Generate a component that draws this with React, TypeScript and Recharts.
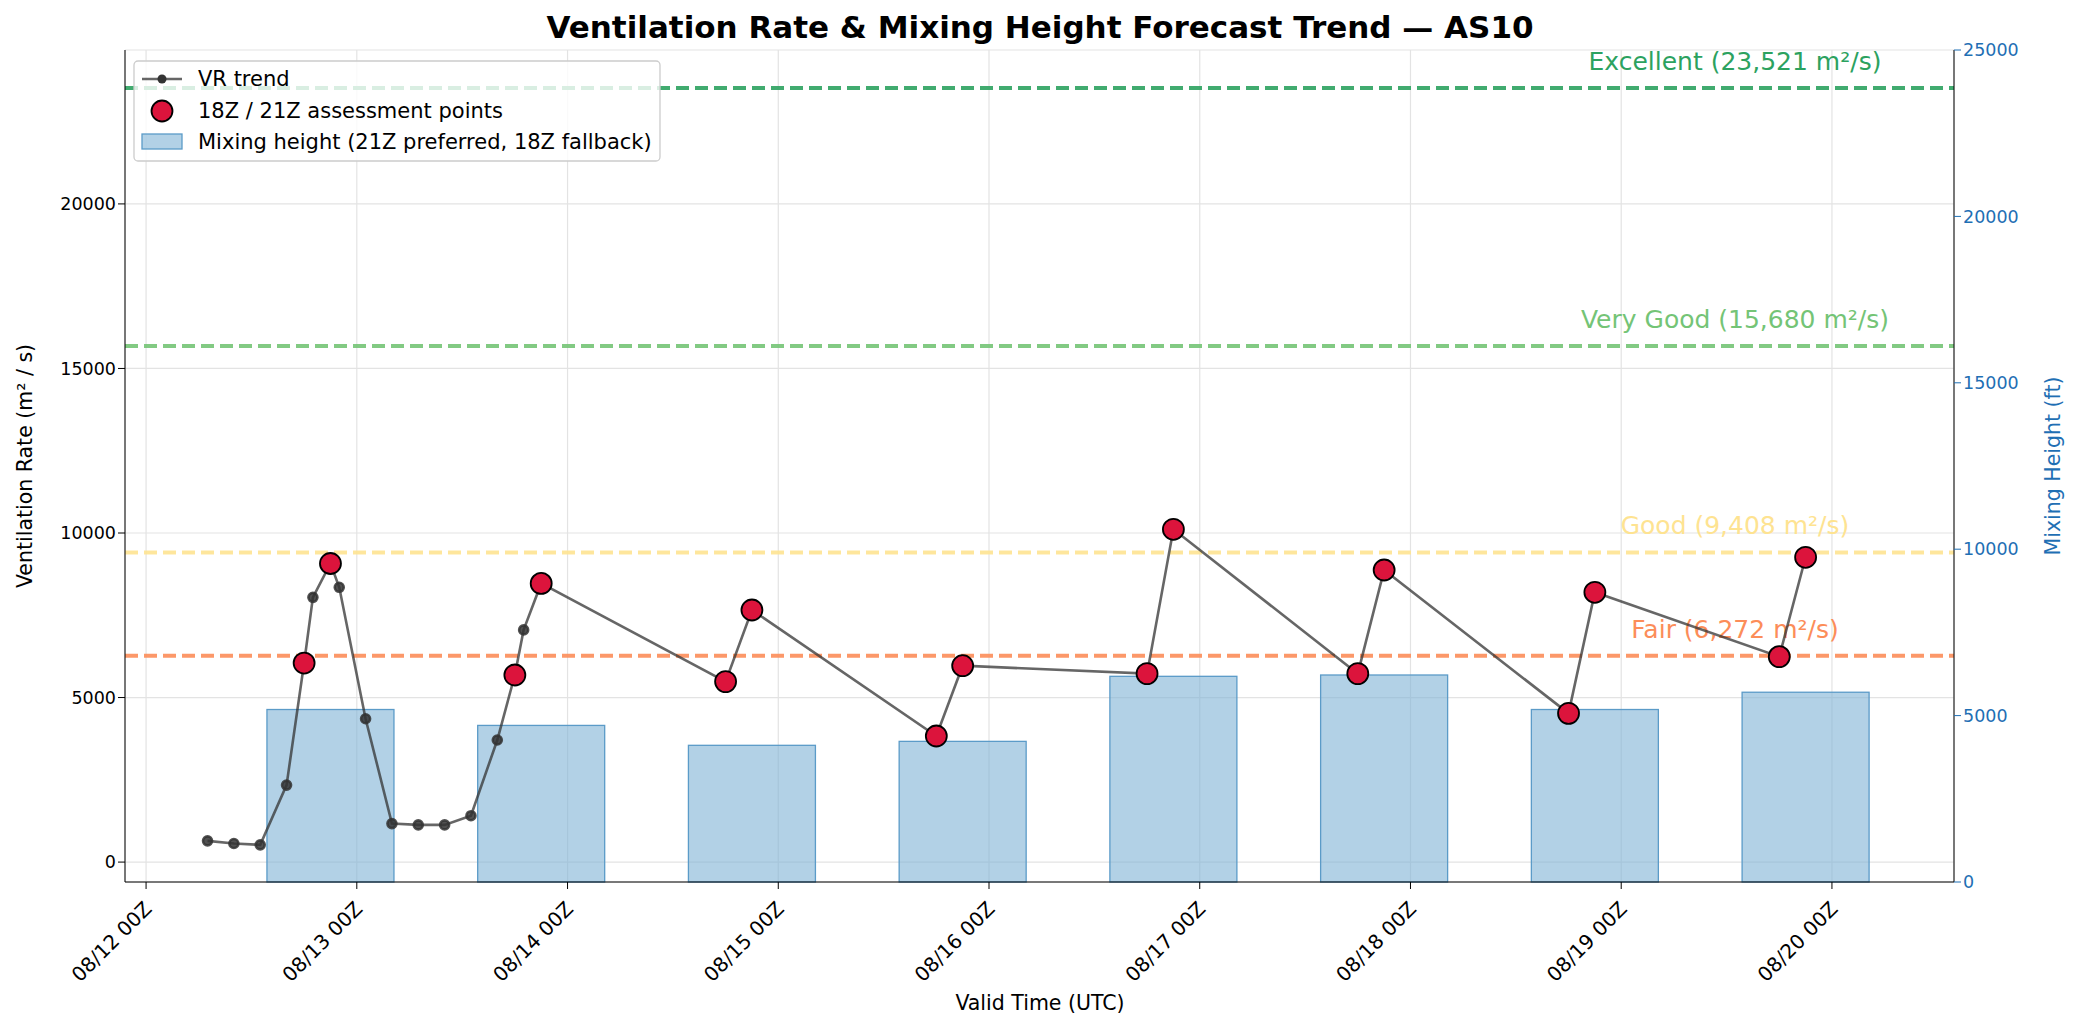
import React from 'react';
import {
  ComposedChart, Bar, Line, XAxis, YAxis, CartesianGrid, ReferenceLine,
} from 'recharts';

// hours since 08/12 00Z
const vrHours = [7, 10, 13, 16, 18, 19, 21, 22, 25, 28, 31, 34, 37, 40, 42, 43, 45, 66, 69, 90, 93, 114, 117, 138, 141, 162, 165, 186, 189];
const vrValues = [645, 565, 524, 2339, 6048, 8045, 9073, 8350, 4355, 1170, 1130, 1130, 1410, 3710, 5685, 7056, 8468, 5484, 7661, 3831, 5968, 5726, 10113, 5726, 8875, 4520, 8198, 6242, 9262];
const assessHours = [18, 21, 42, 45, 66, 69, 90, 93, 114, 117, 138, 141, 162, 165, 186, 189];
const mhHours = [21, 45, 69, 93, 117, 141, 165, 189];
const mhValues = [5183, 4705, 4107, 4226, 6180, 6220, 5183, 5702];
const xTicks = [0, 24, 48, 72, 96, 120, 144, 168, 192];
const xTickLabels = ['08/12 00Z', '08/13 00Z', '08/14 00Z', '08/15 00Z', '08/16 00Z', '08/17 00Z', '08/18 00Z', '08/19 00Z', '08/20 00Z'];
const thresholds = [
  { name: 'Excellent', value: 23521, color: '#2ca25f', text: 'Excellent (23,521 m²/s)' },
  { name: 'Very Good', value: 15680, color: '#74c476', text: 'Very Good (15,680 m²/s)' },
  { name: 'Good', value: 9408, color: '#fee391', text: 'Good (9,408 m²/s)' },
  { name: 'Fair', value: 6272, color: '#fc8d59', text: 'Fair (6,272 m²/s)' },
];

const rows = vrHours.map((h, i) => {
  const mi = mhHours.indexOf(h);
  return {
    hour: h,
    vr: vrValues[i],
    assess: assessHours.includes(h) ? vrValues[i] : null,
    mh: mi >= 0 ? mhValues[mi] : null,
  };
});

const FONT = '"DejaVu Sans", sans-serif';
const W = 2063;
const H = 1016;
const BLUE = '#1f6fb4';
const BAR_W = 127;

const XTick = (props: any) => {
  const { x, y, payload } = props;
  const idx = xTicks.indexOf(payload.value);
  const ax = x + 2;
  const ay = y + 14;
  return (
    <text x={ax} y={ay} transform={`rotate(-45 ${ax} ${ay})`} textAnchor="end" dominantBaseline="central"
      fontSize={20} fontFamily={FONT} fill="#000">
      {xTickLabels[idx]}
    </text>
  );
};

const RedDot = (props: any) => {
  const { cx, cy, payload } = props;
  if (payload.assess == null) return null;
  return <circle key={`a${payload.hour}`} cx={cx} cy={cy} r={10.5} fill="#dc143c" stroke="#000" strokeWidth={1.8} />;
};

// draw the mixing-height bar at a fixed width centred on its time
const WideBar = (props: any) => {
  const { x, y, width, height } = props;
  if (height == null || height <= 0) return null;
  const cx = x + width / 2;
  return <rect x={cx - BAR_W / 2} y={y} width={BAR_W} height={height} fill="#7fb3d5" fillOpacity={0.6} stroke="#5b9bc8" strokeWidth={1.3} />;
};

const thresholdLabel = (t: any) => (props: any) => {
  const { viewBox } = props;
  return (
    <text x={1727} y={viewBox.y - 18} textAnchor="middle" fontSize={25} fontFamily={FONT} fill={t.color}>
      {t.text}
    </text>
  );
};

export default function App() {
  return (
    <div style={{ position: 'relative', width: W, height: H, fontFamily: FONT }}>
      <ComposedChart width={W} height={H} data={rows} margin={{ top: 42, right: 0, bottom: 0, left: 0 }}>
        <CartesianGrid stroke="#e3e3e3" strokeWidth={1.2} yAxisId="left" />
        <XAxis dataKey="hour" type="number" domain={[-2.4, 205.9]} ticks={xTicks} height={142}
          tick={<XTick />} tickSize={7} stroke="#000" allowDataOverflow />
        <YAxis yAxisId="left" domain={[-605, 24677]} ticks={[0, 5000, 10000, 15000, 20000]} width={117}
          tick={{ fontSize: 17.5, fill: '#000', fontFamily: FONT }} tickSize={7} stroke="#000" allowDataOverflow />
        <YAxis yAxisId="right" orientation="right" domain={[0, 25000]} ticks={[0, 5000, 10000, 15000, 20000, 25000]} width={117}
          tick={{ fontSize: 17.5, fill: BLUE, fontFamily: FONT }} tickSize={7} stroke="#000" tickLine={{ stroke: BLUE }} />
        <Bar yAxisId="right" dataKey="mh" shape={<WideBar />} isAnimationActive={false} />
        {thresholds.map((t) => (
          <ReferenceLine key={t.name} yAxisId="left" y={t.value} stroke={t.color} strokeWidth={4} strokeDasharray="13 6"
            strokeOpacity={0.9} label={thresholdLabel(t)} />
        ))}
        <Line yAxisId="left" dataKey="vr" stroke="#333" strokeOpacity={0.75} strokeWidth={2.6}
          dot={{ r: 4.5, fill: '#333', fillOpacity: 0.85, stroke: '#333', strokeOpacity: 0.85 }} isAnimationActive={false} />
        <Line yAxisId="left" dataKey="assess" stroke="none" dot={<RedDot />} activeDot={false} connectNulls isAnimationActive={false} />
      </ComposedChart>
      <svg width={W} height={H} style={{ position: 'absolute', left: 0, top: 0, pointerEvents: 'none' }}>
        <text x={1032} y={30} textAnchor="middle" fontSize={31} fontWeight="bold" fontFamily={FONT}>
          Ventilation Rate &amp; Mixing Height Forecast Trend — AS10
        </text>
        <text x={1032} y={1002} textAnchor="middle" fontSize={20.5} fontFamily={FONT}>Valid Time (UTC)</text>
        <text transform="translate(24 458) rotate(-90)" textAnchor="middle" fontSize={20.5} fontFamily={FONT}>Ventilation Rate (m² / s)</text>
        <text transform="translate(2052 458) rotate(-90)" textAnchor="middle" fontSize={20.5} fontFamily={FONT} fill={BLUE}>Mixing Height (ft)</text>
        <g transform="translate(126 53)">
          <rect x={0} y={0} width={526} height={100} rx={4} fill="#fff" fillOpacity={0.8} stroke="#ccc" strokeWidth={1.3} />
          <line x1={8} y1={18} x2={48} y2={18} stroke="#333" strokeOpacity={0.75} strokeWidth={2.6} />
          <circle cx={28} cy={18} r={4.5} fill="#333" />
          <text x={64} y={25} fontSize={21} fontFamily={FONT}>VR trend</text>
          <circle cx={28} cy={50} r={10.5} fill="#dc143c" stroke="#000" strokeWidth={1.8} />
          <text x={64} y={57} fontSize={21} fontFamily={FONT}>18Z / 21Z assessment points</text>
          <rect x={8} y={73} width={40} height={15} fill="#7fb3d5" fillOpacity={0.6} stroke="#5b9bc8" strokeWidth={1.3} />
          <text x={64} y={88} fontSize={21} fontFamily={FONT}>Mixing height (21Z preferred, 18Z fallback)</text>
        </g>
      </svg>
    </div>
  );
}
